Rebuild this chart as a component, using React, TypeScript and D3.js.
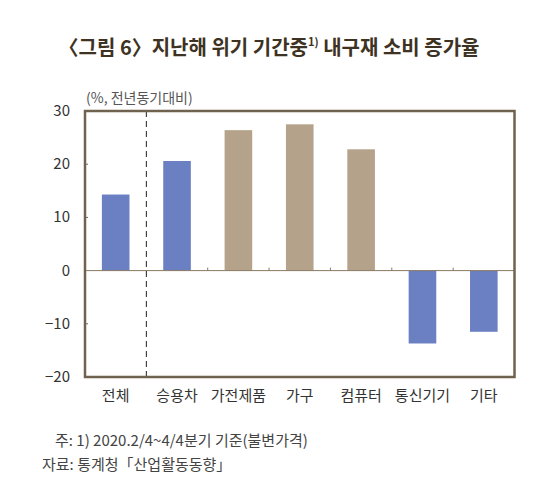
import React from "react";
import * as d3 from "d3";

const categories = ["전체", "승용차", "가전제품", "가구", "컴퓨터", "통신기기", "기타"];
const values = [14.3, 20.6, 26.4, 27.5, 22.8, -13.7, -11.5];
const groups = ["blue", "blue", "tan", "tan", "tan", "blue", "blue"];
const yTicks = [30, 20, 10, 0, -10, -20];

const W = 543, H = 504;
const left = 85, right = 514.5, top = 111, bottom = 377;
const FONT = "'Noto Sans CJK KR', 'Noto Sans', sans-serif";
const colors: Record<string, string> = { blue: "#6b80c2", tan: "#b4a38a" };
const frame = "#6f6350";

export default function App() {
  const x = d3.scaleBand().domain(categories).range([left, right]).paddingInner(0.55).paddingOuter(0.275);
  const xb = d3.scaleBand().domain(categories).range([left, right]);
  const y = d3.scaleLinear().domain([-20, 30]).range([bottom, top]);
  const zeroY = y(0);
  const dashX = xb(categories[1])!;
  return (
    <svg width={W} height={H} style={{ display: "block", position: "absolute", left: 0, top: 0 }} fontFamily={FONT}>
      <rect width={W} height={H} fill="#fff" />
      <text x={269} y={55} textAnchor="middle" fontSize={20} fontWeight={700} fill="#3e3222">
        <tspan>〈그림 6〉지난해 위기 기간중</tspan>
        <tspan fontSize={11} dy={-9}>1)</tspan>
        <tspan dy={9}> 내구재 소비 증가율</tspan>
      </text>
      <text x={86} y={103} fontSize={14} fill="#555">(%, 전년동기대비)</text>
      {categories.map((c, i) => {
        const v = values[i];
        const y0 = y(Math.max(0, v));
        const y1 = y(Math.min(0, v));
        return <rect key={c} x={x(c)} y={y0} width={x.bandwidth()} height={y1 - y0} fill={colors[groups[i]]} />;
      })}
      <line x1={left} x2={right} y1={zeroY} y2={zeroY} stroke="#8a7a62" strokeWidth={1} />
      {categories.slice(2).map((c) => (
        <line key={c} x1={xb(c)} x2={xb(c)} y1={zeroY} y2={zeroY - 3} stroke="#8a7a62" strokeWidth={1} />
      ))}
      {yTicks.slice(1, -1).filter((t) => t !== 0).map((t) => (
        <line key={t} x1={left} x2={left + 3} y1={y(t)} y2={y(t)} stroke={frame} strokeWidth={1} />
      ))}
      <line x1={dashX} x2={dashX} y1={top} y2={bottom} stroke="#222" strokeWidth={1} strokeDasharray="6,4" />
      <rect x={left} y={top} width={right - left} height={bottom - top} fill="none" stroke={frame} strokeWidth={2.5} />
      {yTicks.map((t) => (
        <text key={t} x={70} y={y(t) + 5} textAnchor="end" fontSize={15} fill="#333">
          {t < 0 ? "−" + Math.abs(t) : t}
        </text>
      ))}
      {categories.map((c) => (
        <text key={c} x={xb(c)! + xb.bandwidth() / 2} y={401} textAnchor="middle" fontSize={15} fill="#333">
          {c}
        </text>
      ))}
      <text x={55} y={446} fontSize={15} fill="#444">주: 1) 2020.2/4~4/4분기 기준(불변가격)</text>
      <text x={42} y={470} fontSize={15} fill="#444">자료: 통계청「산업활동동향」</text>
    </svg>
  );
}
